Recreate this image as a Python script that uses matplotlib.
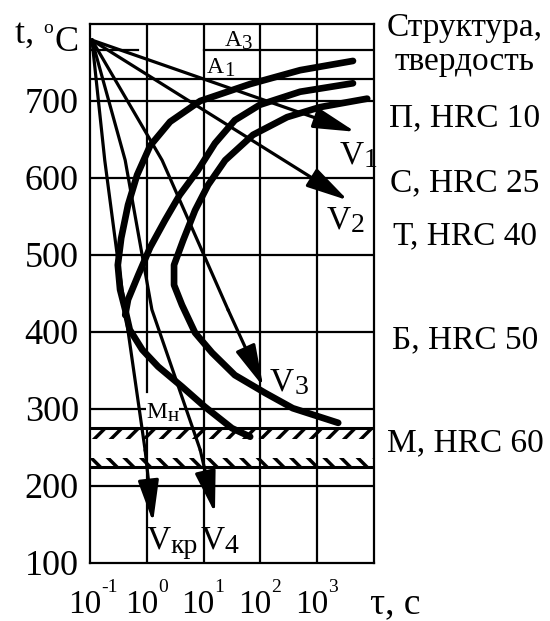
import matplotlib
matplotlib.use("Agg")
import matplotlib.pyplot as plt
import numpy as np

plt.rcParams["font.family"] = ["Liberation Serif", "DejaVu Serif"]
plt.rcParams["hatch.linewidth"] = 2.5

# C-curves: log10(tau, s) and temperature, C
c1_lg = [3.63, 2.70, 1.82, 0.94, 0.41, 0.06, -0.17, -0.33, -0.45, -0.51, -0.47, -0.38,
         -0.30, -0.08, 0.20, 0.62, 1.02, 1.50, 1.82]
c1_t = [752, 740, 722, 700, 673, 642, 604, 565, 522, 487, 455, 429,
        403, 377, 355, 329, 303, 275, 264]
c2_lg = [3.63, 2.70, 1.99, 1.55, 1.20, 0.90, 0.58, 0.32, 0.06, -0.15, -0.33, -0.38]
c2_t = [723, 712, 695, 675, 645, 610, 578, 545, 510, 474, 442, 422]
c3_lg = [3.88, 3.05, 2.47, 1.87, 1.38, 1.08, 0.85, 0.64, 0.48, 0.48, 0.62, 0.85,
         1.15, 1.55, 2.08, 2.57, 3.37]
c3_t = [703, 692, 679, 656, 623, 591, 558, 519, 487, 461, 435, 399,
        373, 344, 321, 301, 282]

# cooling curves V1, V2, V3, V4, Vкр (common start point)
v_lg = [
    [-0.965, 3.67],
    [-0.965, 3.54],
    [-0.965, 0.27, 1.43, 2.05],
    [-0.965, -0.38, 0.09, 0.94, 1.20],
    [-0.965, -0.74, -0.51, -0.03, 0.11],
]
v_t = [
    [779, 660],
    [779, 571],
    [779, 623, 429, 329],
    [779, 623, 429, 247, 165],
    [779, 623, 494, 247, 153],
]

a3_t, a1_t = 766, 729
band1 = (261, 275)
band2 = (225, 236)

y_ticks = [100, 200, 300, 400, 500, 600, 700]
x_ticks = [0.1, 1, 10, 100, 1000]
x_exps = ["-1", "0", "1", "2", "3"]

structures = ["П, HRC 10", "С, HRC 25", "Т, HRC 40", "Б, HRC 50", "М, HRC 60"]
structure_t = [678, 594, 525, 390, 256]

fig = plt.figure(figsize=(5.5, 6.21), dpi=100)
ax = fig.add_axes([0.1636, 0.0934, 0.5164, 0.868])
ax.set_xscale("log")
ax.set_xlim(0.1, 1e4)
ax.set_ylim(100, 800)

gl = 1.6
for xv in [1, 10, 100, 1000]:
    if xv == 1:
        ax.plot([xv, xv], [100, 275], color="k", lw=gl)
        ax.plot([xv, xv], [322, 800], color="k", lw=gl)
    else:
        ax.axvline(xv, color="k", lw=gl)
for yv in y_ticks[1:]:
    ax.axhline(yv, color="k", lw=gl)
ax.axhline(a1_t, color="k", lw=gl)
ax.plot([0.1, 10 ** -0.15], [a3_t, a3_t], color="k", lw=gl)
ax.plot([10, 1e4], [a3_t, a3_t], color="k", lw=gl)
for s in ax.spines.values():
    s.set_linewidth(gl)

ax.axhline(band1[1], color="k", lw=2.2)
ax.fill_between([0.1, 1e4], band1[0], band1[1], facecolor="none", edgecolor="k", hatch="//", lw=0)
ax.axhline(band2[0], color="k", lw=2.2)
ax.fill_between([0.1, 1e4], band2[0], band2[1], facecolor="none", edgecolor="k", hatch="\\\\", lw=0)

for lg, tt in [(c1_lg, c1_t), (c2_lg, c2_t), (c3_lg, c3_t)]:
    ax.plot(10 ** np.array(lg), tt, color="k", lw=4.8, solid_capstyle="round", solid_joinstyle="round")

for lg, tt in zip(v_lg, v_t):
    x = 10 ** np.array(lg)
    ax.plot(x[:-1], tt[:-1], color="k", lw=2.3, solid_joinstyle="round")
    ax.annotate("", xy=(x[-1], tt[-1]), xytext=(x[-2], tt[-2]),
                arrowprops=dict(arrowstyle="-|>,head_length=1.6,head_width=0.4",
                                color="k", lw=2.3, shrinkA=0, shrinkB=0, mutation_scale=16))


def sub_label(x, y, main, sub, size, sub_size, bg=False):
    box = dict(fc="white", ec="none", pad=0.5) if bg else None
    t = ax.text(x, y, main, fontsize=size, ha="left", va="center", bbox=box)
    ax.annotate(sub, xy=(1, 0.05), xycoords=t, xytext=(0, -3), textcoords="offset points",
                fontsize=sub_size, ha="left", va="bottom", bbox=box)


sub_label(10 ** 1.38, 779, "A", "3", 17, 15)
sub_label(10 ** 1.06, 743, "A", "1", 17, 15)
sub_label(10 ** 3.40, 630, "V", "1", 24, 20)
sub_label(10 ** 3.17, 545, "V", "2", 24, 20)
sub_label(10 ** 2.17, 335, "V", "3", 24, 20)
sub_label(10 ** 0.94, 129, "V", "4", 24, 20)
sub_label(10 ** 0.0, 129, "V", "кр", 24, 20)
sub_label(10 ** 0.0, 295, "M", "н", 17, 15, bg=True)

ax.set_yticks(y_ticks)
ax.set_yticklabels([str(v) for v in y_ticks], fontsize=26)
ax.set_xticks(x_ticks)
ax.set_xticklabels([])
ax.minorticks_off()
ax.tick_params(length=0)
ax.tick_params(axis="y", pad=8)

# x tick labels: "10" with a small exponent, drawn as two texts
xtr = ax.get_xaxis_transform()
for xv, ex in zip(x_ticks, x_exps):
    ax.annotate("10", xy=(xv, 0), xycoords=xtr, xytext=(8, -36), textcoords="offset points",
                fontsize=24, ha="right", va="baseline")
    ax.annotate(ex, xy=(xv, 0), xycoords=xtr, xytext=(8, -21), textcoords="offset points",
                fontsize=14, ha="left", va="baseline")

tr = ax.get_yaxis_transform()
ax.text(1.32, 795, "Структура,", transform=tr, fontsize=24, ha="center", va="center")
ax.text(1.32, 751, "твердость", transform=tr, fontsize=24, ha="center", va="center")
for name, tv in zip(structures, structure_t):
    ax.text(1.32, tv, name, transform=tr, fontsize=24, ha="center", va="center")

# y axis title "t, °C" with a raised small o
t = fig.text(15 / 550, 1 - 43 / 621, "t, ", fontsize=26, ha="left", va="baseline")
fig.add_artist(plt.Annotation("o", xy=(1, 0), xycoords=t, xytext=(0, 13), textcoords="offset points",
                              fontsize=14, ha="left", va="baseline"))
fig.add_artist(plt.Annotation("C", xy=(1, 0), xycoords=t, xytext=(8, 0), textcoords="offset points",
                              fontsize=26, ha="left", va="baseline"))
fig.text(370 / 550, 1 - 613 / 621, "τ, с", fontsize=27, ha="left", va="baseline")

fig.savefig("out.png", dpi=100)
